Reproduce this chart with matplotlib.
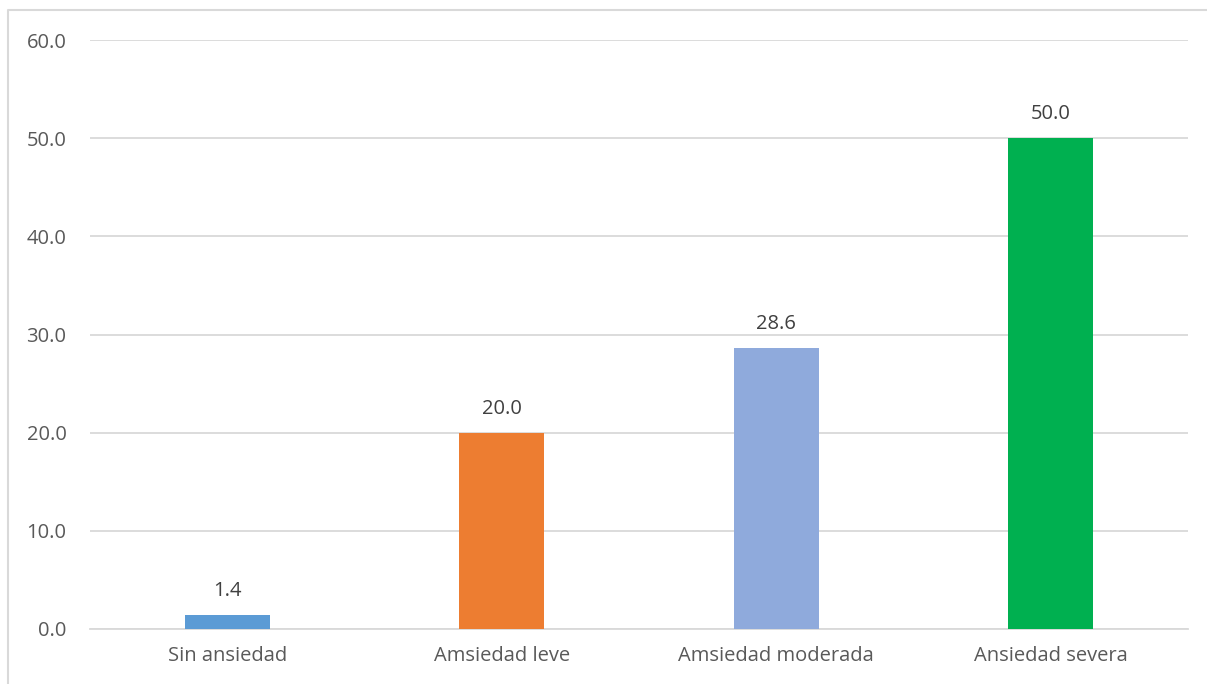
import matplotlib.pyplot as plt
from matplotlib.lines import Line2D

# niveles de ansiedad (%)
categorias = ["Sin ansiedad", "Amsiedad leve", "Amsiedad moderada", "Ansiedad severa"]
porcentajes = [1.4, 20.0, 28.6, 50.0]
colores = ["#5B9BD5", "#ED7D31", "#8FAADC", "#00B050"]
yticks = [0, 10, 20, 30, 40, 50, 60]

plt.rcParams['font.family'] = ['Open Sans', 'DejaVu Sans']

W, H = 1207, 684
fig = plt.figure(figsize=(W / 100, H / 100), dpi=100)

# marco del grafico (solo borde izquierdo y superior)
fx, fy = 8 / W, 1 - 10 / H
fig.add_artist(Line2D([fx, fx, 1.0], [0.0, fy, fy], transform=fig.transFigure,
                      color="#D9D9D9", linewidth=1.5))

ax = fig.add_axes([90 / W, 1 - 629 / H, (1188 - 90) / W, (629 - 40) / H])

x = range(len(categorias))
bars = ax.bar(x, porcentajes, width=0.31, color=colores, zorder=3)

for b, v in zip(bars, porcentajes):
    ax.annotate(f"{v:.1f}", (b.get_x() + b.get_width() / 2, v),
                xytext=(0, 10), textcoords="offset points",
                ha="center", va="bottom", fontsize=14.5, color="#404040")

ax.set_xlim(-0.5, len(categorias) - 0.5)
ax.set_ylim(0, 60)
ax.set_yticks(yticks)
ax.set_yticklabels([f"{t:.1f}" for t in yticks])
ax.set_xticks(list(x))
ax.set_xticklabels(categorias)

ax.grid(axis="y", color="#D9D9D9", linewidth=1.3, zorder=0)
ax.tick_params(axis="y", length=0, pad=17, labelsize=14.5, labelcolor="#595959")
ax.tick_params(axis="x", length=0, pad=12, labelsize=14.5, labelcolor="#595959")
for s in ["top", "right", "left"]:
    ax.spines[s].set_visible(False)
ax.spines["bottom"].set_color("#D9D9D9")
ax.spines["bottom"].set_linewidth(1.3)

fig.savefig("out.png", dpi=100)
